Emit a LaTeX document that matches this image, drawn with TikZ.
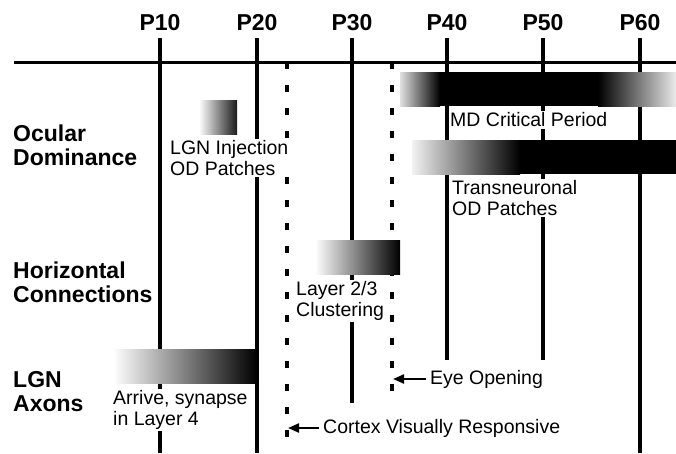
\documentclass[tikz,border=0pt]{standalone}
\usepackage{fontspec}
\setmainfont{Liberation Sans}
\usetikzlibrary{arrows.meta}
\begin{document}
\begin{tikzpicture}[x=1pt,y=-1pt,
  vline/.style={line width=3.4pt},
  dline/.style={line width=3.6pt, dash pattern=on 7pt off 16pt},
  axisline/.style={line width=3pt},
  lbl/.style={font=\fontsize{19.5}{20.5}\selectfont, align=left, fill=white, inner xsep=1pt, inner ysep=2pt},
  head/.style={font=\fontsize{23}{24}\selectfont\bfseries, align=left, inner sep=0pt},
  plab/.style={font=\fontsize{23}{24}\selectfont\bfseries, inner sep=0pt},
  arr/.style={line width=2.2pt, -{Triangle[length=11pt,width=9pt]}}]
\useasboundingbox (0,0) rectangle (676,453);
% vertical grid lines
\coordinate (t10) at (160,38); \coordinate (b10) at (160,453);
\coordinate (t20) at (257,38); \coordinate (b20) at (257,453);
\coordinate (t30) at (352,38); \coordinate (b30) at (352,403);
\coordinate (t40) at (447,38); \coordinate (b40) at (447,360);
\coordinate (t50) at (543,38); \coordinate (b50) at (543,360);
\coordinate (t60) at (640,38); \coordinate (b60) at (640,453);
\draw[vline] (t10) -- (b10);
\draw[vline] (t20) -- (b20);
\draw[vline] (t30) -- (b30);
\draw[vline] (t40) -- (b40);
\draw[vline] (t50) -- (b50);
\draw[vline] (t60) -- (b60);
% dashed lines
\coordinate (dAt) at (287,62); \coordinate (dAb) at (287,453);
\coordinate (dBt) at (392,62); \coordinate (dBb) at (392,406);
\draw[dline] (dAt) -- (dAb);
\draw[dline] (dBt) -- (dBb);
% axis
\coordinate (axl) at (14,62); \coordinate (axr) at (676,62);
\draw[axisline] (axl) -- (axr);
% labels on top
\node[plab] (p10) at (160,23) {P10};
\node[plab] (p20) at (257,23) {P20};
\node[plab] (p30) at (352,23) {P30};
\node[plab] (p40) at (447,23) {P40};
\node[plab] (p50) at (543,23) {P50};
\node[plab] (p60) at (640,23) {P60};
% bars
\shade[left color=black!12,right color=black] (400,72) rectangle (440,106);
\fill[black] (439.5,72) rectangle (598.5,106);
\shade[left color=black,right color=black!8] (598,72) rectangle (676,106);
\shade[left color=black!5,right color=black] (412,140) rectangle (520,174);
\fill[black] (519.5,140) rectangle (676,174);
\shade[left color=white,right color=black!90] (199,100) rectangle (237,134);
\shade[left color=white,right color=black] (315,240) rectangle (400,274);
\shade[left color=white,right color=black] (113,349) rectangle (257,383);
% row headings
\node[head, anchor=west] (od) at (13,145) {Ocular\\Dominance};
\node[head, anchor=west] (hc) at (13,282) {Horizontal\\Connections};
\node[head, anchor=west] (lgn) at (13,392) {LGN\\Axons};
% bar labels
\node[lbl, anchor=west] (inj) at (169,158) {LGN Injection\\OD Patches};
\node[lbl, anchor=west] (md) at (449,120) {MD Critical Period};
\node[lbl, anchor=west] (tn) at (451,198) {Transneuronal\\OD Patches};
\node[lbl, anchor=west] (lay) at (295,301) {Layer 2/3\\Clustering};
\node[lbl, anchor=west] (arr) at (112,410) {Arrive, synapse\\in Layer 4};
% event labels
\node[lbl, anchor=west] (eye) at (429,379) {Eye Opening};
\node[lbl, anchor=west] (ctx) at (322,428) {Cortex Visually Responsive};
\coordinate (eyeH) at (393,379);
\coordinate (ctxH) at (288,428);
\draw[arr, shorten <=3pt] (eye.west) -- (eyeH);
\draw[arr, shorten <=3pt] (ctx.west) -- (ctxH);
\end{tikzpicture}
\end{document}
